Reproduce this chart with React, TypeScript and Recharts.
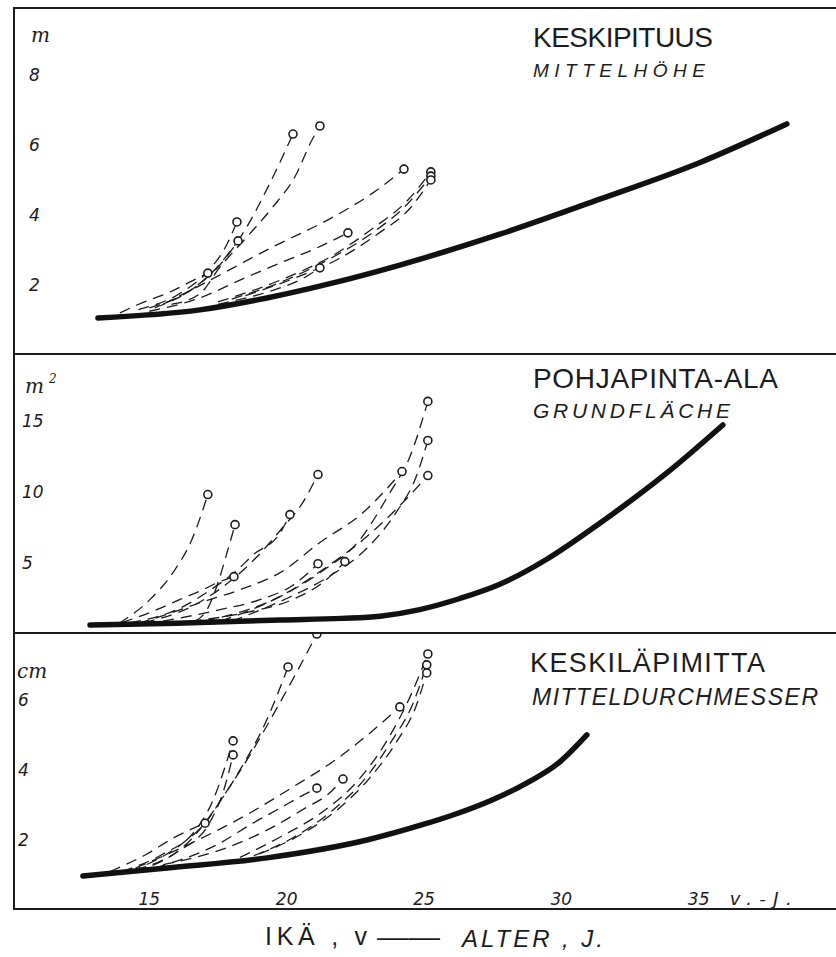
import React from "react";
import { LineChart, Line, XAxis, YAxis } from "recharts";

type Pt = [number, number]; // [age in years, value]

const ageTicks = [15, 20, 25, 30, 35];
const heightTicks = [2, 4, 6, 8];
const basalTicks = [5, 10, 15];
const diamTicks = [2, 4, 6];

// KESKIPITUUS (m)
const heightMean: Pt[] = [
  [13.13, 1.06], [16.84, 1.29], [19.28, 1.63], [21.69, 2.06], [24.12, 2.57],
  [27.76, 3.45], [31.4, 4.45], [35.05, 5.5], [38.21, 6.6],
];
const heightRuns: Pt[][] = [
  [[13.93, 1.2], [14.55, 1.43], [15.75, 1.8], [16.84, 2.23], [17.13, 2.34]],
  [[15.2, 1.35], [16.6, 1.9], [17.6, 2.6], [18.55, 3.66], [19.39, 4.91], [20.23, 6.31]],
  [[15.8, 1.45], [16.84, 1.75], [17.57, 2.51], [18.55, 3.37], [19.5, 4.23], [20.3, 5.09], [20.92, 6.14], [21.21, 6.54]],
  [[14.6, 1.3], [16.2, 1.8], [17.2, 2.45], [17.75, 3.05], [18.19, 3.8]],
  [[15.0, 1.35], [16.5, 1.85], [17.4, 2.45], [18.23, 3.26]],
  [[15.5, 1.45], [16.73, 1.94], [19.5, 3.09], [21.69, 3.94], [23.14, 4.63], [24.27, 5.31]],
  [[15.0, 1.25], [16.84, 1.63], [18.3, 2.14], [19.76, 2.63], [21.1, 3.06], [22.23, 3.49]],
  [[17.5, 1.45], [19.5, 1.85], [20.5, 2.15], [21.21, 2.49]],
  [[17.5, 1.52], [19.8, 2.15], [21.69, 2.85], [23.14, 3.62], [24.38, 4.4], [25.25, 5.23]],
  [[18.0, 1.6], [20.0, 2.15], [21.69, 2.8], [23.14, 3.5], [24.38, 4.3], [25.25, 5.11]],
  [[18.5, 1.7], [20.3, 2.2], [21.9, 2.75], [23.3, 3.45], [24.5, 4.2], [25.25, 5.0]],
];

// POHJAPINTA-ALA (m²)
const basalMean: Pt[] = [
  [12.84, 0.63], [16.0, 0.75], [19.76, 0.99], [22.0, 1.1], [23.4, 1.25], [24.8, 1.7],
  [26.31, 2.5], [27.76, 3.5], [29.5, 5.3], [31.4, 7.8], [33.84, 11.34], [35.88, 14.72],
];
const basalRuns: Pt[][] = [
  [[13.9, 0.75], [15.02, 2.42], [15.86, 4.32], [16.55, 6.65], [17.13, 9.82]],
  [[16.66, 0.9], [17.1, 1.71], [17.5, 3.61], [17.86, 5.94], [18.12, 7.7]],
  [[14.0, 0.8], [15.27, 1.71], [16.1, 2.42], [16.95, 3.12], [17.57, 3.69], [18.08, 4.04]],
  [[14.3, 0.8], [16.1, 1.8], [17.3, 3.2], [18.2, 4.5], [18.77, 5.56], [19.76, 7.11], [20.12, 8.41]],
  [[14.8, 0.8], [16.5, 1.9], [17.8, 3.5], [18.9, 5.4], [19.9, 7.6], [20.5, 9.0], [21.14, 11.23]],
  [[14.6, 0.75], [15.39, 1.22], [16.84, 2.2], [18.3, 3.12], [19.76, 4.32], [21.21, 6.44], [22.78, 8.55], [24.2, 11.44]],
  [[17.0, 0.9], [19.76, 2.63], [21.21, 4.32], [22.67, 6.65], [23.76, 9.96], [24.49, 12.5], [25.14, 16.38]],
  [[18.0, 0.9], [20.0, 2.5], [21.5, 4.0], [22.9, 6.0], [24.0, 8.6], [24.7, 11.0], [25.14, 13.63]],
  [[17.6, 0.9], [20.01, 2.91], [21.47, 4.74], [22.92, 6.86], [24.23, 9.26], [25.14, 11.16]],
  [[15.5, 0.9], [17.57, 1.71], [19.0, 2.4], [20.2, 3.4], [21.14, 4.95]],
  [[16.5, 0.9], [18.5, 1.5], [20.3, 2.5], [21.3, 3.6], [22.12, 5.1]],
];

// KESKILÄPIMITTA (cm)
const diamMean: Pt[] = [
  [12.58, 0.97], [15.64, 1.2], [19.28, 1.49], [22.92, 2.0], [25.0, 2.45],
  [26.0, 2.7], [27.5, 3.15], [28.8, 3.65], [29.9, 4.2], [30.93, 5.0],
];
const diamRuns: Pt[][] = [
  [[14.3, 1.1], [16.2, 1.9], [17.03, 2.48], [17.68, 3.23], [18.55, 4.28], [19.46, 5.51], [20.37, 6.8], [21.1, 7.88]],
  [[14.5, 1.15], [16.5, 2.0], [17.4, 2.9], [18.3, 4.0], [19.2, 5.3], [20.05, 6.94]],
  [[13.57, 1.1], [14.91, 1.6], [15.86, 2.05], [17.03, 2.48]],
  [[14.0, 1.1], [15.5, 1.6], [16.6, 2.2], [17.3, 3.1], [18.05, 4.83]],
  [[14.5, 1.1], [16.0, 1.65], [17.2, 2.5], [17.7, 3.4], [18.05, 4.43]],
  [[15.2, 1.2], [17.57, 1.91], [18.77, 2.48], [19.76, 2.91], [20.48, 3.23], [21.1, 3.48]],
  [[15.5, 1.3], [17.57, 1.71], [19.28, 2.28], [20.74, 2.94], [21.47, 3.28], [22.05, 3.74]],
  [[18.3, 1.5], [19.8, 2.1], [21.3, 2.8], [22.6, 3.7], [23.7, 4.9], [24.5, 6.1], [25.14, 7.31]],
  [[18.8, 1.55], [20.2, 2.05], [21.6, 2.8], [22.8, 3.7], [23.8, 4.8], [24.6, 5.9], [25.1, 7.0]],
  [[19.0, 1.6], [20.5, 2.15], [21.9, 2.9], [23.0, 3.75], [24.0, 4.8], [24.7, 5.8], [25.1, 6.77]],
  [[14.5, 1.2], [16.5, 1.9], [18.5, 2.7], [20.2, 3.5], [21.8, 4.3], [23.1, 5.1], [24.12, 5.8]],
];

const W = 836;
const INK = "#1c1c1c";
const hand = "'DejaVu Sans', sans-serif";

const rows = (pts: Pt[]) => pts.map(([age, v]) => ({ age, v }));

const ringDot = (n: number) => (p: any) =>
  p.index === n - 1 ? (
    <circle key={`r${p.index}`} cx={p.cx} cy={p.cy} r={4} fill="#fff" stroke={INK} strokeWidth={1.6} />
  ) : (
    <g key={`n${p.index}`} />
  );

function Panel(props: {
  top: number;
  h: number;
  domain: [number, number];
  ticks: number[];
  tickX: number;
  mean: Pt[];
  runs: Pt[][];
  showAge?: boolean;
}) {
  const { top, h, domain, ticks, tickX, mean, runs, showAge } = props;
  return (
    <div style={{ position: "absolute", left: 0, top, width: W, height: h }}>
      <LineChart width={W} height={h} margin={{ top: 0, right: 0, bottom: 0, left: 12 }}>
        <XAxis
          type="number"
          dataKey="age"
          domain={[10, 40]}
          ticks={ageTicks}
          hide={!showAge}
          mirror
          axisLine={false}
          tickLine={false}
          tick={(p: any) => (
            <g>
              <text x={p.x} y={h - 4} textAnchor="middle" fontFamily={hand} fontStyle="italic" fontSize={17} fill={INK}>
                {p.payload.value}
              </text>
              {p.payload.value === 35 && (
                <text x={p.x + 31} y={h - 4} fontFamily={hand} fontStyle="italic" fontSize={18} fill={INK}
                  textLength={62} lengthAdjust="spacing">
                  v.-J.
                </text>
              )}
            </g>
          )}
        />
        <YAxis
          type="number"
          domain={domain}
          ticks={ticks}
          mirror
          axisLine={false}
          tickLine={false}
          tick={(p: any) => (
            <text x={tickX} y={p.y} dy={6} fontFamily={hand} fontStyle="italic" fontSize={17} fill={INK}>
              {p.payload.value}
            </text>
          )}
        />
        {runs.map((r, i) => (
          <Line
            key={i}
            data={rows(r)}
            dataKey="v"
            type="monotone"
            stroke={INK}
            strokeWidth={1.3}
            strokeDasharray="11 7"
            dot={ringDot(r.length)}
            activeDot={false}
            isAnimationActive={false}
          />
        ))}
        <Line
          data={rows(mean)}
          dataKey="v"
          type="monotone"
          stroke="#111"
          strokeWidth={5.5}
          strokeLinecap="round"
          dot={false}
          activeDot={false}
          isAnimationActive={false}
        />
      </LineChart>
    </div>
  );
}

const rule = (top: number) => (
  <div style={{ position: "absolute", left: 13, top, width: W, height: 2, background: INK }} />
);

export default function App() {
  return (
    <div style={{ position: "absolute", left: 0, top: 0, width: W, height: 957, overflow: "hidden", background: "#fff" }}>
      <Panel top={8} h={346} domain={[0.03, 9.91]} ticks={heightTicks} tickX={29} mean={heightMean} runs={heightRuns} />
      <Panel top={354} h={279} domain={[0.07, 19.72]} ticks={basalTicks} tickX={22} mean={basalMean} runs={basalRuns} />
      <Panel top={633} h={276} domain={[0.03, 7.91]} ticks={diamTicks} tickX={18} mean={diamMean} runs={diamRuns} showAge />

      <div style={{ position: "absolute", left: 13, top: 7, width: 2, height: 903, background: INK }} />
      {rule(7)}
      {rule(353)}
      {rule(632)}
      {rule(908)}

      <svg width={W} height={957} style={{ position: "absolute", left: 0, top: 0, pointerEvents: "none" }}>
        <g fill={INK} fontFamily="'Liberation Sans', Arial, sans-serif">
          <text x={533} y={47} fontSize={28} textLength={180} lengthAdjust="spacing">KESKIPITUUS</text>
          <text x={533} y={77} fontSize={19} fontStyle="italic" textLength={172} lengthAdjust="spacing">MITTELHÖHE</text>
          <text x={533} y={388} fontSize={28} textLength={245} lengthAdjust="spacing">POHJAPINTA-ALA</text>
          <text x={533} y={418} fontSize={21} fontStyle="italic" textLength={197} lengthAdjust="spacing">GRUNDFLÄCHE</text>
          <text x={530} y={672} fontSize={27} textLength={235} lengthAdjust="spacing">KESKILÄPIMITTA</text>
          <text x={532} y={705} fontSize={23} fontStyle="italic" textLength={286} lengthAdjust="spacing">MITTELDURCHMESSER</text>
          <text x={265} y={945} fontSize={25} textLength={102} lengthAdjust="spacing">IKÄ , v</text>
          <text x={377} y={946} fontSize={25} textLength={63} lengthAdjust="spacingAndGlyphs">——</text>
          <text x={462} y={947} fontSize={24} fontStyle="italic" textLength={141} lengthAdjust="spacing">ALTER , J.</text>
        </g>
        <g fill={INK} fontFamily="'DejaVu Serif', serif" fontStyle="italic">
          <text x={31} y={42} fontSize={20}>m</text>
          <text x={25} y={393} fontSize={20}>m</text>
          <text x={49} y={383} fontSize={12}>2</text>
          <text x={17} y={678} fontSize={20}>cm</text>
        </g>
      </svg>
    </div>
  );
}
